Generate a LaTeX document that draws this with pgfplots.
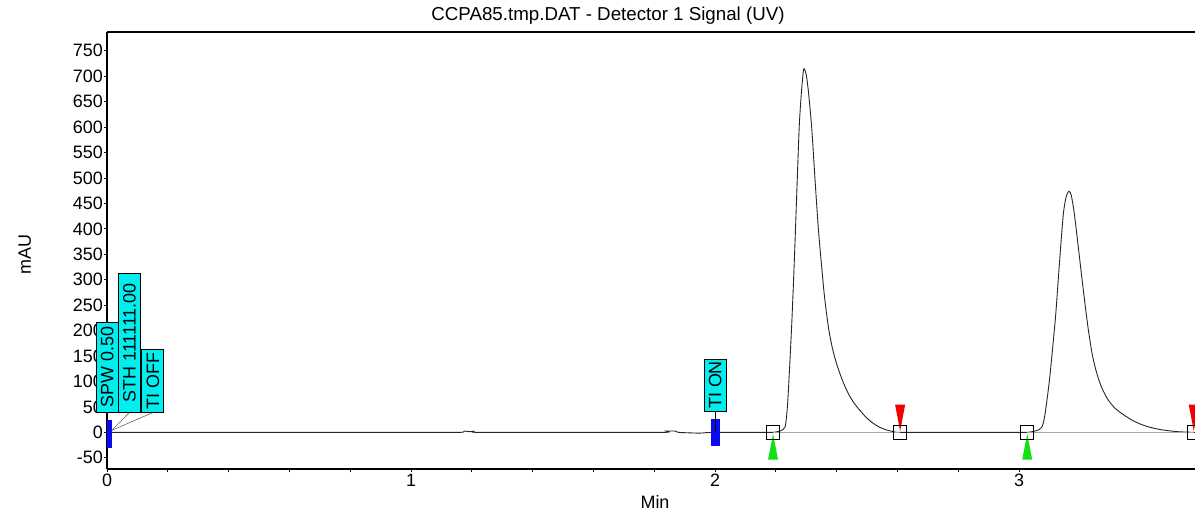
\documentclass[border=0pt]{standalone}
\usepackage{fontspec}
\setmainfont{Liberation Sans}
\usepackage{pgfplots}
\pgfplotsset{compat=1.18}
\definecolor{cyanbox}{RGB}{0,238,238}
\definecolor{mkgreen}{RGB}{20,225,20}
\definecolor{mkred}{RGB}{240,0,0}
\definecolor{evblue}{RGB}{10,10,240}
\tikzset{evbox/.style={draw=black, line width=0.8bp, fill=cyanbox, rotate=90, anchor=west,
  font=\fontsize{18}{20}\selectfont, text height=12.9bp, text depth=0pt,
  inner ysep=4.5bp, inner xsep=2bp, minimum height=22bp}}
\begin{document}
\begin{tikzpicture}
\begin{axis}[
  set layers,
  name=ax,
  scale only axis, width=1088bp, height=437bp,
  xmin=0, xmax=3.579, ymin=-72, ymax=787,
  clip=false,
  axis x line*=bottom, axis y line*=left,
  axis line style={-, black, line width=1.2bp},
  xtick={0,1,2,3}, minor x tick num=4,
  ytick={-50,0,50,...,750},
  tick align=outside, major tick length=3bp, minor tick length=3bp,
  tick style={black, line width=0.8bp},
  ticklabel style={font=\fontsize{18}{20}\selectfont},
  /pgf/number format/assume math mode=true,
  xticklabel style={inner ysep=1.5bp},
  yticklabel style={inner xsep=1bp},
  xlabel={Min}, ylabel={mAU},
  label style={font=\fontsize{18}{20}\selectfont},
  xlabel style={at={(0.5037,0)}, anchor=base, yshift=-39bp},
  ylabel style={at={(-0.0699,0.49)}, anchor=base},
  title={CCPA85.tmp.DAT - Detector 1 Signal (UV)},
  title style={at={(0.4605,1)}, anchor=base, yshift=5.3bp, font=\fontsize{18.8}{20}\selectfont},
]
% top frame line
\draw[black, line width=1.2bp] (rel axis cs:0,1) -- (rel axis cs:1,1);

% chromatogram trace
\addplot[black!85, line width=0.9bp, smooth, tension=0.45] coordinates {
(0,0) (0.5,0) (1.0,0) (1.16,0) (1.175,2.5) (1.19,1.5) (1.205,2) (1.22,0)
(1.5,0) (1.83,0) (1.84,2.5) (1.87,2.5) (1.88,0) (1.95,-1.5) (1.97,-0.5) (2.0,0)
(2.1,0) (2.17,0) (2.191,0) (2.215,3) (2.230,10) (2.236,35) (2.241,77)
(2.252,207) (2.261,338) (2.269,470) (2.277,600) (2.284,666) (2.290,707)
(2.293,715) (2.300,704) (2.308,666) (2.318,600) (2.325,535) (2.332,470)
(2.340,400) (2.349,338) (2.360,268) (2.373,207) (2.386,166) (2.400,135)
(2.418,104) (2.438,77) (2.457,58) (2.477,43) (2.498,29) (2.520,18)
(2.542,10) (2.565,4.5) (2.588,1.5) (2.609,0)
(2.8,0) (3.0,0) (3.027,0) (3.055,3) (3.075,10) (3.086,37) (3.100,102)
(3.111,168) (3.121,233) (3.129,299) (3.137,364) (3.146,430) (3.155,463)
(3.164,474) (3.172,466) (3.182,430) (3.193,375) (3.205,313) (3.217,253)
(3.229,198) (3.242,150) (3.256,116) (3.272,88) (3.292,65) (3.315,48)
(3.343,35) (3.375,23) (3.405,15) (3.431,10) (3.47,5) (3.52,1.5)
(3.575,0) (3.579,0)
};

% integration baselines
\addplot[gray!70, line width=1bp] coordinates {(2.191,0) (2.609,0)};
\addplot[gray!70, line width=1bp] coordinates {(3.027,0) (3.575,0)};

% start (green) and end (red) triangles
\addplot[fill=mkgreen, draw=none] coordinates {(2.191,-2.6) (2.2075,-53.7) (2.1745,-53.7)} -- cycle;
\addplot[fill=mkgreen, draw=none] coordinates {(3.027,-2.6) (3.0435,-53.7) (3.0105,-53.7)} -- cycle;
\addplot[fill=mkred, draw=none] coordinates {(2.609,2.5) (2.6255,54.4) (2.5925,54.4)} -- cycle;
\addplot[fill=mkred, draw=none] coordinates {(3.575,2.5) (3.5915,54.4) (3.5585,54.4)} -- cycle;

% peak markers
\addplot[only marks, mark=square, mark size=6.6bp, mark options={black, line width=0.9bp}]
  coordinates {(2.191,0) (2.609,0) (3.027,0) (3.575,0)};

% timed events
\addplot[fill=evblue, draw=none] coordinates {(0,-30) (0.018,-30) (0.018,25) (0,25)} -- cycle;
\addplot[fill=evblue, draw=none] coordinates {(1.986,-27.5) (2.016,-27.5) (2.016,27) (1.986,27)} -- cycle;
\addplot[gray!80!black, line width=0.6bp] coordinates {(0.073,38.7) (0.0154,3.9)};
\addplot[gray!80!black, line width=0.6bp] coordinates {(0.150,38.7) (0.0154,3.9)};
\addplot[black, line width=0.8bp] coordinates {(2.0,41.3) (2.0,0)};

\node[evbox, minimum width=90bp] at (axis cs:0,38.7) {SPW 0.50};
\node[evbox, minimum width=139bp] at (axis cs:0.073,38.7) {STH 111111.00};
\node[evbox, minimum width=63bp] at (axis cs:0.150,38.7) {TI OFF};
\node[evbox, minimum width=52bp] at (axis cs:2.0,41.3) {TI ON};
\end{axis}
\pgfresetboundingbox
\path[use as bounding box] ([xshift=-107bp,yshift=-45bp]ax.south west) rectangle ([yshift=32bp]ax.north east);
\end{tikzpicture}
\end{document}
